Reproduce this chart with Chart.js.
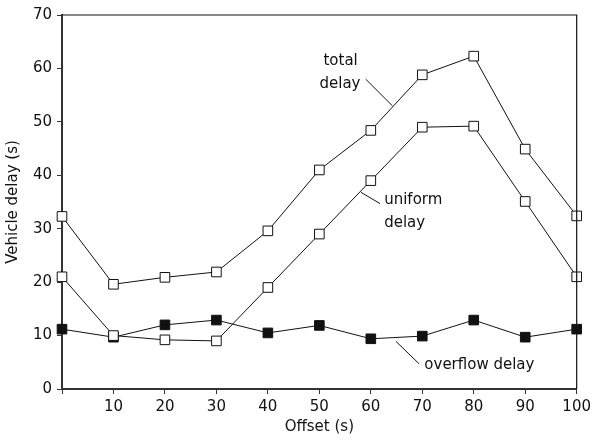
<!DOCTYPE html>
<html>
<head>
<meta charset="utf-8">
<script src="https://cdn.jsdelivr.net/npm/chart.js@4.4.1/dist/chart.umd.min.js"></script>
<style>
  html, body { margin: 0; padding: 0; background: #fff; }
  #wrap { width: 595px; height: 440px; }
</style>
</head>
<body>
<div id="wrap"><canvas id="myChart" width="595" height="440"></canvas></div>
<script>
const offsets = [0, 10, 20, 30, 40, 50, 60, 70, 80, 90, 100];
const totalDelay = [32.3, 19.6, 20.9, 21.9, 29.6, 41.0, 48.4, 58.8, 62.3, 44.9, 32.4];
const uniformDelay = [21.0, 10.0, 9.2, 9.0, 19.0, 29.0, 39.0, 49.0, 49.2, 35.1, 21.0];
const overflowDelay = [11.2, 9.7, 12.0, 12.9, 10.5, 11.9, 9.4, 9.9, 12.9, 9.7, 11.2];
const yTicks = [0, 10, 20, 30, 40, 50, 60, 70];

// annotation labels, placed in data units
const notes = [
  { lines: ['total', 'delay'], x: 50.8, y: 61.3, dx: [0, -4], from: [59.0, 58.0], to: [64.2, 53.0] },
  { lines: ['uniform', 'delay'], x: 62.6, y: 35.4, dx: [0, 0], from: [58.1, 36.8], to: [61.8, 34.7] },
  { lines: ['overflow delay'], x: 70.4, y: 4.4, dx: [0], from: [64.9, 8.9], to: [69.4, 4.7] }
];

const FONT = { family: 'DejaVu Sans', size: 15 };

function pts(vals) {
  return offsets.map((x, i) => ({ x: x, y: vals[i] }));
}

const frame = {
  id: 'frame',
  afterDatasetsDraw(chart) {
    const { ctx, chartArea: a, scales } = chart;
    ctx.save();
    ctx.strokeStyle = '#111';
    ctx.lineWidth = 1.2;
    ctx.beginPath();
    ctx.moveTo(a.left, a.top);
    ctx.lineTo(a.right, a.top);
    ctx.lineTo(a.right, a.bottom);
    ctx.stroke();

    ctx.font = '15px "DejaVu Sans"';
    ctx.fillStyle = '#111';
    ctx.textBaseline = 'middle';
    ctx.lineWidth = 1;
    notes.forEach(n => {
      const px = scales.x.getPixelForValue(n.x);
      const py = scales.y.getPixelForValue(n.y);
      n.lines.forEach((t, i) => ctx.fillText(t, px + n.dx[i], py + i * 23));
      ctx.beginPath();
      ctx.moveTo(scales.x.getPixelForValue(n.from[0]), scales.y.getPixelForValue(n.from[1]));
      ctx.lineTo(scales.x.getPixelForValue(n.to[0]), scales.y.getPixelForValue(n.to[1]));
      ctx.stroke();
    });
    ctx.restore();
  }
};

const open = { borderColor: '#111', backgroundColor: '#fff', pointBackgroundColor: '#fff', pointBorderColor: '#111' };

const ctx = document.getElementById('myChart').getContext('2d');
const myChart = new Chart(ctx, {
  type: 'line',
  data: {
    datasets: [
      Object.assign({ label: 'total delay', data: pts(totalDelay) }, open),
      Object.assign({ label: 'uniform delay', data: pts(uniformDelay) }, open),
      { label: 'overflow delay', data: pts(overflowDelay), borderColor: '#111', backgroundColor: '#111', pointBackgroundColor: '#111', pointBorderColor: '#111' }
    ]
  },
  options: {
    responsive: false,
    animation: false,
    layout: { padding: { top: 15, right: 15, left: 0, bottom: 0 } },
    elements: {
      line: { borderWidth: 1, tension: 0 },
      point: { pointStyle: 'rect', radius: 6.8, borderWidth: 1, hoverRadius: 6.8 }
    },
    datasets: { line: { clip: false } },
    plugins: { legend: { display: false }, tooltip: { enabled: false } },
    scales: {
      x: {
        type: 'linear', min: 0, max: 100,
        afterFit(s) { s.height = 51; },
        border: { color: '#333', width: 2 },
        grid: { drawOnChartArea: false, tickLength: 5, color: '#333' },
        ticks: { stepSize: 10, color: '#111', font: FONT, padding: 4, maxRotation: 0,
          callback: v => v === 0 ? '' : v },
        title: { display: true, text: 'Offset (s)', color: '#111', font: FONT, padding: { top: 0 } }
      },
      y: {
        min: 0, max: 70,
        afterFit(s) { s.width = 62; },
        afterBuildTicks(s) { s.ticks = yTicks.map(v => ({ value: v })); },
        border: { color: '#333', width: 2 },
        grid: { drawOnChartArea: false, tickLength: 5, color: '#333' },
        ticks: { color: '#111', font: FONT, padding: 5 },
        title: { display: true, text: 'Vehicle delay (s)', color: '#111', font: FONT, padding: { bottom: 2 } }
      }
    }
  },
  plugins: [frame]
});
</script>
</body>
</html>
